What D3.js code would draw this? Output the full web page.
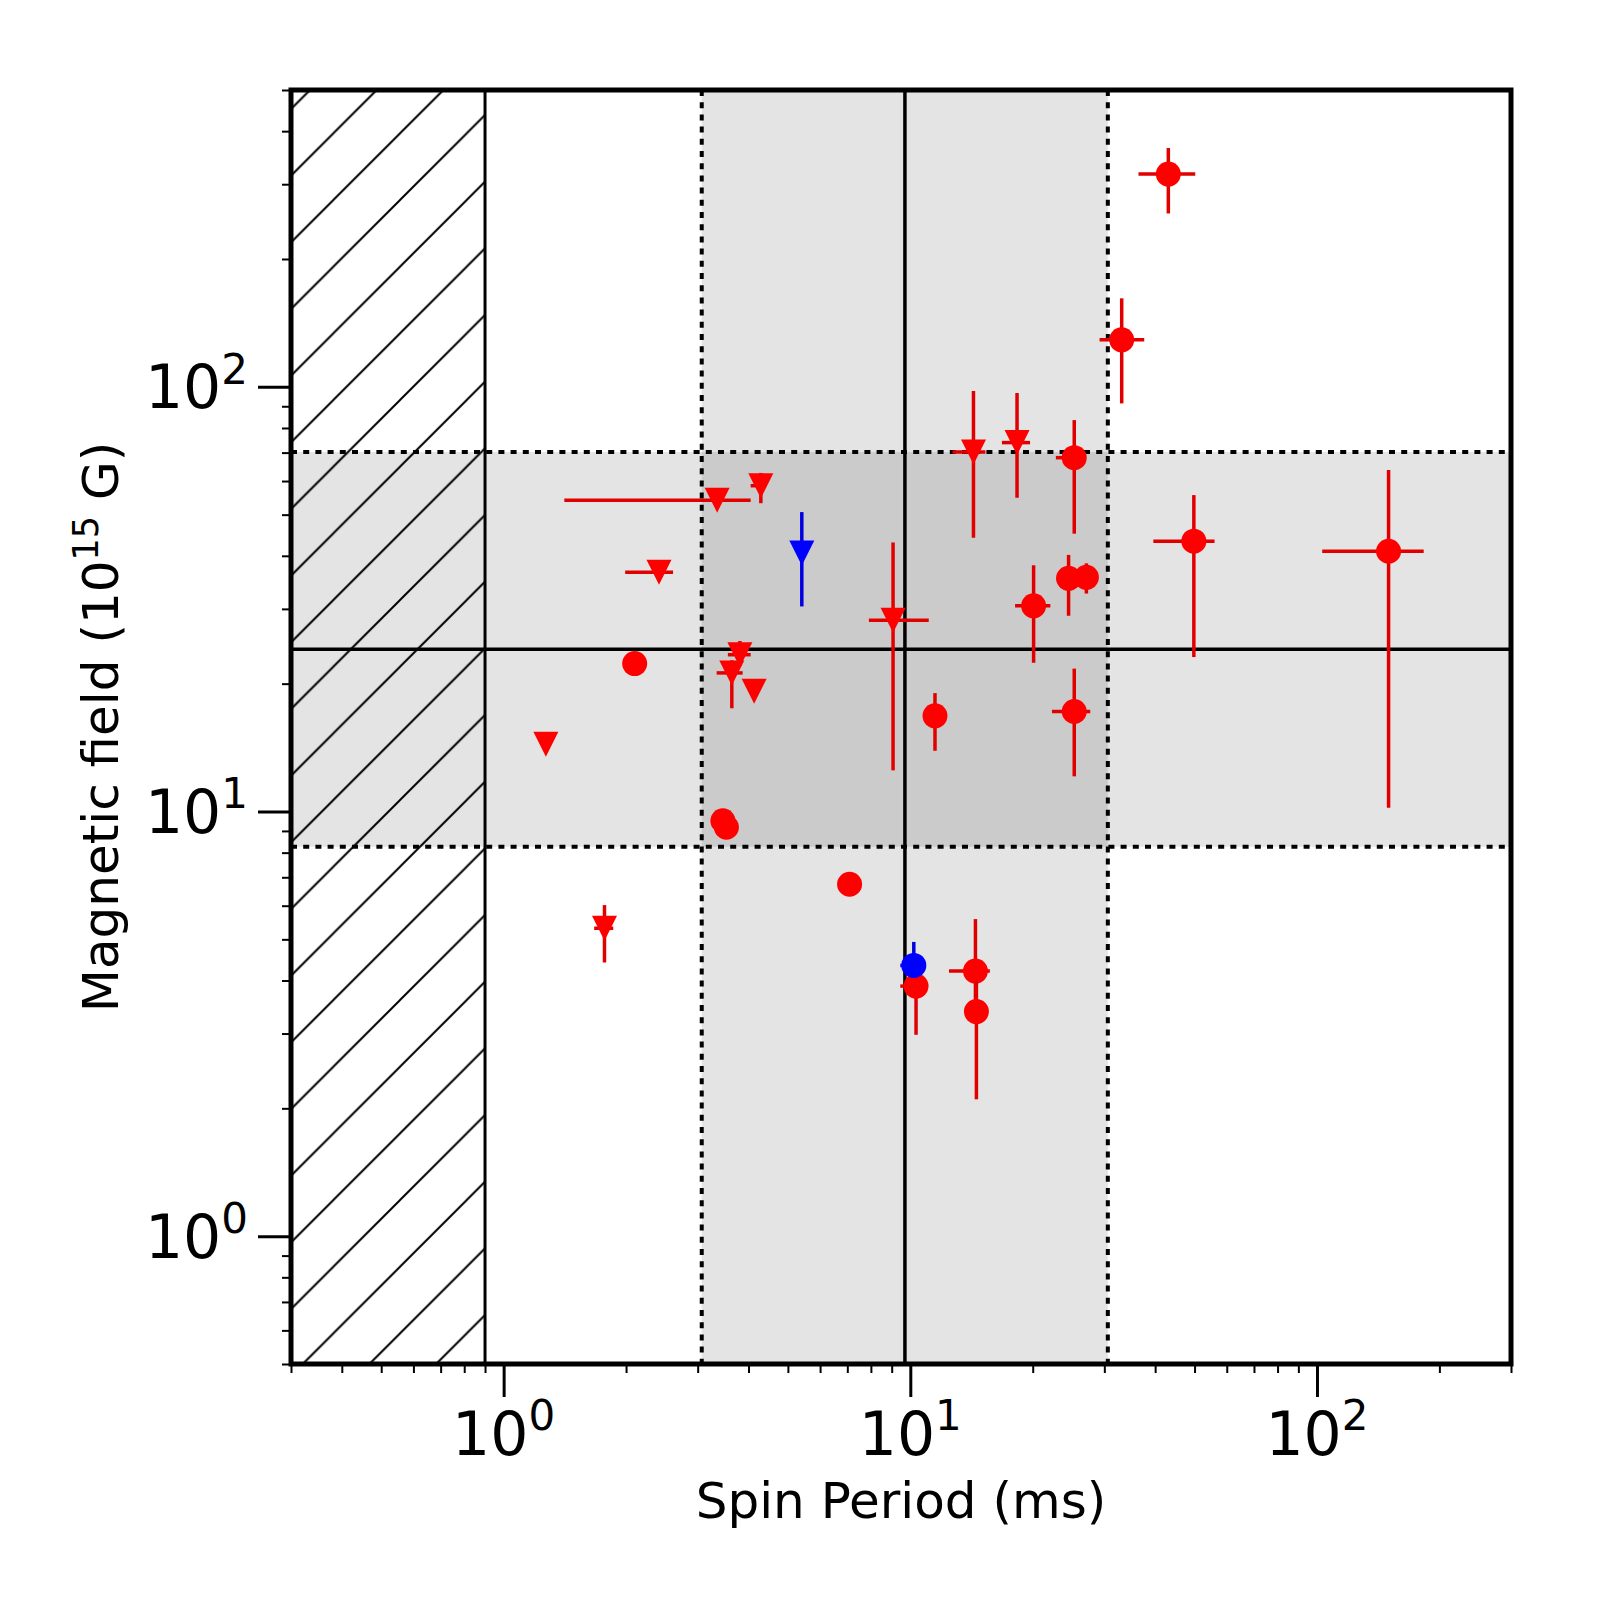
<!DOCTYPE html>
<html><head><meta charset="utf-8">
<script src="https://cdn.jsdelivr.net/npm/d3@7"></script>
<style>
body{margin:0;background:#fff}
svg{display:block}
text{font-family:"DejaVu Sans",sans-serif;fill:#000}
</style>
</head><body>
<svg id="chart" width="1600" height="1600"></svg>
<script>
// ---- data (spin period in ms, magnetic field in 1e15 G) ----
const periods  = [43.1, 33.1, 25.3, 49.8, 150, 20.1, 24.5, 27.1, 2.10, 11.5, 25.3, 3.46, 3.53, 7.09, 14.46, 14.54, 10.33,
                  14.3, 18.3, 4.29, 3.35, 2.41, 1.27, 3.81, 3.64, 4.13, 9.07, 1.77, 5.41, 10.2];
const periodLo = [36.4, 29.2, 22.8, 39.6, 103, 18.1, 23.9, null, null, null, 22.3, null, null, null, 12.45, null, 9.45,
                  12.7, 16.8, 4.05, 1.41, 1.99, 1.245, 3.56, 3.34, null, 7.91, 1.67, null, 9.45];
const periodHi = [50.2, 37.6, 26.3, 56.0, 183, 22.1, 25.2, null, null, null, 27.7, null, null, null, 15.69, null, 10.6,
                  15.3, 19.7, 4.29, 4.05, 2.61, 1.27, 4.05, 3.87, null, 11.1, 1.86, null, 10.5];
const fields   = [317, 129, 68.1, 43.3, 41.0, 30.5, 35.4, 35.6, 22.3, 16.8, 17.2, 9.51, 9.18, 6.74, 4.21, 3.38, 3.88,
                  70.2, 73.9, 58.5, 54.1, 36.6, 14.4, 23.4, 21.2, 19.2, 28.2, 5.31, 40.6, 4.34];
const fieldLo  = [256, 91.4, 45.1, 23.1, 10.2, 22.4, 28.9, 32.6, null, 13.9, 12.1, null, null, null, 3.6, 2.10, 2.98,
                  44.1, 54.8, 53.2, null, null, null, 22.0, 17.5, null, 12.5, 4.41, 30.4, 4.1];
const fieldHi  = [365, 161.6, 83.5, 55.6, 63.7, 38.0, 40.2, 38.4, null, 19.0, 21.7, null, null, null, 5.58, 4.0, 4.3,
                  97.7, 96.7, 62.7, null, null, null, 25.2, 22.7, null, 43.0, 6.02, 50.7, 4.93];
const kinds    = ["measured","measured","measured","measured","measured","measured","measured","measured","measured",
                  "measured","measured","measured","measured","measured","measured","measured","measured",
                  "limit","limit","limit","limit","limit","limit","limit","limit","limit","limit","limit",
                  "limit","measured"];
const samples  = ["A","A","A","A","A","A","A","A","A","A","A","A","A","A","A","A","A",
                  "A","A","A","A","A","A","A","A","A","A","A","B","B"];

// reference regions
const periodExcludedMax = 0.9;
const periodBand = [3.07, 30.6];
const periodMid = 9.7;
const fieldBand = [8.26, 70.2];
const fieldMid = 24.1;

// axes
const xDomain = [0.3, 300];
const yDomain = [0.5, 500];
const xTickValues = [1, 10, 100];
const xTickExp = ["0", "1", "2"];
const yTickValues = [1, 10, 100];
const yTickExp = ["0", "1", "2"];
const xLabel = "Spin Period (ms)";
const yLabelParts = ["Magnetic field (10", "15", " G)"];

// ---- drawing ----
const L = 291, R = 1511, T = 90, B = 1364;
const svg = d3.select("#chart");
const x = d3.scaleLog().domain(xDomain).range([L, R]);
const y = d3.scaleLog().domain(yDomain).range([B, T]);

const colorMarker = {A: "#ff0000", B: "#0000ff"};
const colorBar = {A: "#e00000", B: "#0000e0"};

const defs = svg.append("defs");
defs.append("clipPath").attr("id", "plotclip").append("rect")
  .attr("x", L).attr("y", T).attr("width", R - L).attr("height", B - T);
const h = 66.67;
const pat = defs.append("pattern").attr("id", "hatch").attr("patternUnits", "userSpaceOnUse")
  .attr("x", 0).attr("y", 0).attr("width", h).attr("height", h);
pat.append("path")
  .attr("d", `M0,${h} L${h},0 M${-h/2},${h/2} L${h/2},${-h/2} M${h/2},${h*1.5} L${h*1.5},${h/2}`)
  .attr("stroke", "#000").attr("stroke-width", 2).attr("fill", "none");

const plot = svg.append("g").attr("clip-path", "url(#plotclip)");

// shaded bands
const shade = "#000", shadeOp = 0.105;
plot.append("rect").attr("x", x(periodBand[0])).attr("y", T)
  .attr("width", x(periodBand[1]) - x(periodBand[0])).attr("height", B - T)
  .attr("fill", shade).attr("fill-opacity", shadeOp);
plot.append("rect").attr("x", L).attr("y", y(fieldBand[1]))
  .attr("width", R - L).attr("height", y(fieldBand[0]) - y(fieldBand[1]))
  .attr("fill", shade).attr("fill-opacity", shadeOp);

// hatched excluded region
plot.append("rect").attr("x", x(xDomain[0])).attr("y", T)
  .attr("width", x(periodExcludedMax) - x(xDomain[0])).attr("height", B - T)
  .attr("fill", "url(#hatch)");
plot.append("line").attr("x1", x(periodExcludedMax)).attr("x2", x(periodExcludedMax))
  .attr("y1", T).attr("y2", B).attr("stroke", "#000").attr("stroke-width", 3);

// reference lines
const dot = "6 6.2";
periodBand.forEach(v => plot.append("line").attr("x1", x(v)).attr("x2", x(v)).attr("y1", T).attr("y2", B)
  .attr("stroke", "#000").attr("stroke-width", 4).attr("stroke-dasharray", dot));
fieldBand.forEach(v => plot.append("line").attr("x1", L).attr("x2", R).attr("y1", y(v)).attr("y2", y(v))
  .attr("stroke", "#000").attr("stroke-width", 4).attr("stroke-dasharray", dot));
plot.append("line").attr("x1", x(periodMid)).attr("x2", x(periodMid)).attr("y1", T).attr("y2", B)
  .attr("stroke", "#000").attr("stroke-width", 3.5);
plot.append("line").attr("x1", L).attr("x2", R).attr("y1", y(fieldMid)).attr("y2", y(fieldMid))
  .attr("stroke", "#000").attr("stroke-width", 3.5);

// data points
const pts = periods.map((p, i) => ({p, pl: periodLo[i], ph: periodHi[i], b: fields[i], bl: fieldLo[i], bh: fieldHi[i],
  kind: kinds[i], sample: samples[i]}));
const order = pts.filter(d => d.sample === "A").concat(pts.filter(d => d.sample === "B"));
const ms = 25;
order.forEach(d => {
  const g = plot.append("g");
  const cb = colorBar[d.sample];
  if (d.pl !== null && d.ph !== null) {
    g.append("line").attr("x1", x(d.pl)).attr("x2", x(d.ph)).attr("y1", y(d.b)).attr("y2", y(d.b))
      .attr("stroke", cb).attr("stroke-width", 3.5);
  }
  if (d.bl !== null && d.bh !== null) {
    g.append("line").attr("x1", x(d.p)).attr("x2", x(d.p)).attr("y1", y(d.bl)).attr("y2", y(d.bh))
      .attr("stroke", cb).attr("stroke-width", 3.5);
  }
  const cx = x(d.p), cy = y(d.b);
  if (d.kind === "measured") {
    g.append("circle").attr("cx", cx).attr("cy", cy).attr("r", ms / 2).attr("fill", colorMarker[d.sample]);
  } else {
    const s = ms / 2;
    g.append("path").attr("d", `M${cx - s},${cy - s} L${cx + s},${cy - s} L${cx},${cy + s} Z`)
      .attr("fill", colorMarker[d.sample]);
  }
});

// minor tick values
function minors(lo, hi) {
  const out = [];
  for (let e = Math.floor(Math.log10(lo)); e <= Math.ceil(Math.log10(hi)); e++) {
    for (let m = 2; m <= 9; m++) {
      const v = m * Math.pow(10, e);
      if (v >= lo * 0.999 && v <= hi * 1.001) out.push(v);
    }
  }
  return out;
}

// axes
const xMajor = svg.append("g").attr("transform", `translate(0,${B})`)
  .call(d3.axisBottom(x).tickValues(xTickValues).tickSize(33).tickFormat(() => ""));
const xMinor = svg.append("g").attr("transform", `translate(0,${B})`)
  .call(d3.axisBottom(x).tickValues(minors(xDomain[0], xDomain[1])).tickSize(9).tickFormat(() => ""));
const yMajor = svg.append("g").attr("transform", `translate(${L},0)`)
  .call(d3.axisLeft(y).tickValues(yTickValues).tickSize(33).tickFormat(() => ""));
const yMinor = svg.append("g").attr("transform", `translate(${L},0)`)
  .call(d3.axisLeft(y).tickValues(minors(yDomain[0], yDomain[1])).tickSize(9).tickFormat(() => ""));
[xMajor, xMinor, yMajor, yMinor].forEach(g => g.select(".domain").remove());
[xMajor, yMajor].forEach(g => g.selectAll(".tick line").attr("stroke", "#000").attr("stroke-width", 3));
[xMinor, yMinor].forEach(g => g.selectAll(".tick line").attr("stroke", "#000").attr("stroke-width", 2));

// tick labels
const fs = 60;
xTickValues.forEach((v, i) => {
  const t = svg.append("text").attr("x", x(v)).attr("y", 1455).attr("text-anchor", "middle")
    .attr("font-size", fs);
  t.append("tspan").text("10");
  t.append("tspan").attr("font-size", fs * 0.7).attr("dy", -fs * 0.41).text(xTickExp[i]);
});
yTickValues.forEach((v, i) => {
  const t = svg.append("text").attr("x", 248).attr("y", y(v) + 21.5).attr("text-anchor", "end")
    .attr("font-size", fs);
  t.append("tspan").text("10");
  t.append("tspan").attr("font-size", fs * 0.7).attr("dy", -fs * 0.41).text(yTickExp[i]);
});

// axis labels
svg.append("text").attr("x", (L + R) / 2).attr("y", 1518).attr("text-anchor", "middle")
  .attr("font-size", 50).text(xLabel);
const yl = svg.append("text").attr("transform", `translate(118,${(T + B) / 2}) rotate(-90)`)
  .attr("text-anchor", "middle").attr("font-size", 50);
yl.append("tspan").text(yLabelParts[0]);
yl.append("tspan").attr("font-size", 35).attr("dy", -20).text(yLabelParts[1]);
yl.append("tspan").attr("dy", 20).text(yLabelParts[2]);

// frame
svg.append("rect").attr("x", L).attr("y", T).attr("width", R - L).attr("height", B - T)
  .attr("fill", "none").attr("stroke", "#000").attr("stroke-width", 5);
</script>
</body></html>
